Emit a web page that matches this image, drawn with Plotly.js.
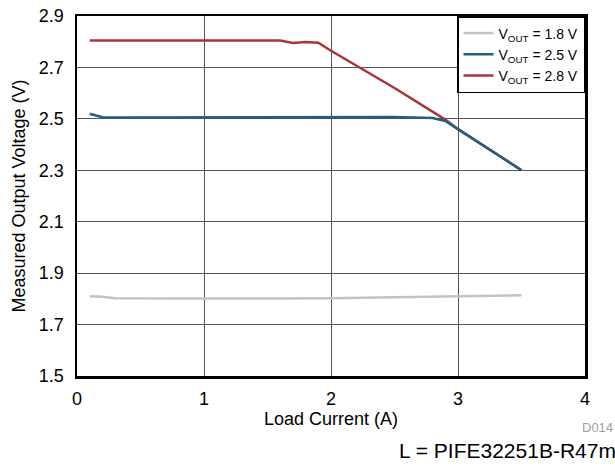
<!DOCTYPE html>
<html>
<head>
<meta charset="utf-8">
<script src="https://cdn.plot.ly/plotly-3.0.1.min.js"></script>
<style>html,body{margin:0;padding:0;background:#fff;}#chart{width:615px;height:471px;}</style>
</head>
<body>
<div id="chart"></div>
<script>
// Load current (A)
const current18 = [0.1, 0.2, 0.3, 0.5, 1.0, 1.5, 2.0, 2.5, 3.0, 3.5];
const vout18    = [1.810, 1.808, 1.802, 1.801, 1.801, 1.801, 1.802, 1.806, 1.810, 1.814];

const current25 = [0.1, 0.2, 0.3, 0.5, 1.0, 1.5, 2.0, 2.5, 2.8, 2.9, 3.0, 3.5];
const vout25    = [2.520, 2.506, 2.505, 2.505, 2.505, 2.505, 2.506, 2.507, 2.503, 2.492, 2.46, 2.30];

const current28 = [0.1, 0.5, 1.0, 1.5, 1.6, 1.7, 1.8, 1.9, 2.0, 2.5, 2.9, 3.0, 3.5];
const vout28    = [2.805, 2.805, 2.805, 2.805, 2.805, 2.795, 2.799, 2.796, 2.765, 2.62, 2.497, 2.46, 2.30];

const seriesNames = ['V<sub>OUT</sub> = 1.8 V', 'V<sub>OUT</sub> = 2.5 V', 'V<sub>OUT</sub> = 2.8 V'];
const seriesColors = ['#c3c3c3', '#23607c', '#a9343a'];

const xTicks = [0, 1, 2, 3, 4];
const yTicks = [1.5, 1.7, 1.9, 2.1, 2.3, 2.5, 2.7, 2.9];

const font = 'Liberation Sans, Arial, Helvetica, sans-serif';

const traces = [
  {x: current18, y: vout18, name: seriesNames[0], line: {color: seriesColors[0], width: 2.5}},
  {x: current28, y: vout28, name: seriesNames[2], line: {color: seriesColors[2], width: 2.5}, showlegend: false, legendgroup: 'r'},
  {x: current25, y: vout25, name: seriesNames[1], line: {color: seriesColors[1], width: 2.5}},
  {x: [null], y: [null], name: seriesNames[2], line: {color: seriesColors[2], width: 2.5}, legendgroup: 'r'}
].map(t => Object.assign({type: 'scatter', mode: 'lines', hoverinfo: 'skip'}, t));

const layout = {
  width: 615, height: 471,
  margin: {l: 77, r: 30, t: 16, b: 95},
  paper_bgcolor: '#fff', plot_bgcolor: '#fff',
  font: {family: font, size: 18, color: '#000'},
  showlegend: true,
  legend: {
    x: 1, y: 1, xanchor: 'right', yanchor: 'top',
    bgcolor: '#fff', bordercolor: '#000', borderwidth: 1.5,
    font: {family: font, size: 14, color: '#000'},
    tracegroupgap: 0, traceorder: 'normal', itemwidth: 30
  },
  xaxis: {
    range: [0, 4], tickvals: xTicks, ticktext: xTicks.map(String),
    showgrid: true, gridcolor: '#555', gridwidth: 1,
    showline: true, linecolor: '#000', linewidth: 2.5, mirror: true,
    ticks: 'outside', ticklen: 5, tickcolor: 'rgba(0,0,0,0)',
    zeroline: false,
    tickfont: {family: font, size: 18},
    title: {text: 'Load Current (A)', font: {family: font, size: 18}, standoff: 2}
  },
  yaxis: {
    range: [1.5, 2.9], tickvals: yTicks, ticktext: yTicks.map(v => v.toFixed(1)),
    showgrid: true, gridcolor: '#555', gridwidth: 1,
    showline: true, linecolor: '#000', linewidth: 2.5, mirror: true,
    ticks: 'outside', ticklen: 7, tickcolor: 'rgba(0,0,0,0)',
    zeroline: false,
    tickfont: {family: font, size: 18},
    title: {text: 'Measured Output Voltage (V)', font: {family: font, size: 18}, standoff: 9}
  },
  annotations: [
    {xref: 'paper', yref: 'paper', x: 1.024, y: -0.144, xanchor: 'center', yanchor: 'middle',
     text: 'D014', showarrow: false, font: {family: font, size: 13, color: '#a0a0a0'}},
    {xref: 'paper', yref: 'paper', x: 0.63, y: -0.206, xanchor: 'left', yanchor: 'middle',
     text: 'L = PIFE32251B-R47m', showarrow: false, font: {family: font, size: 21, color: '#000'}}
  ]
};

Plotly.newPlot('chart', traces, layout, {displayModeBar: false, staticPlot: true});
</script>
</body>
</html>
